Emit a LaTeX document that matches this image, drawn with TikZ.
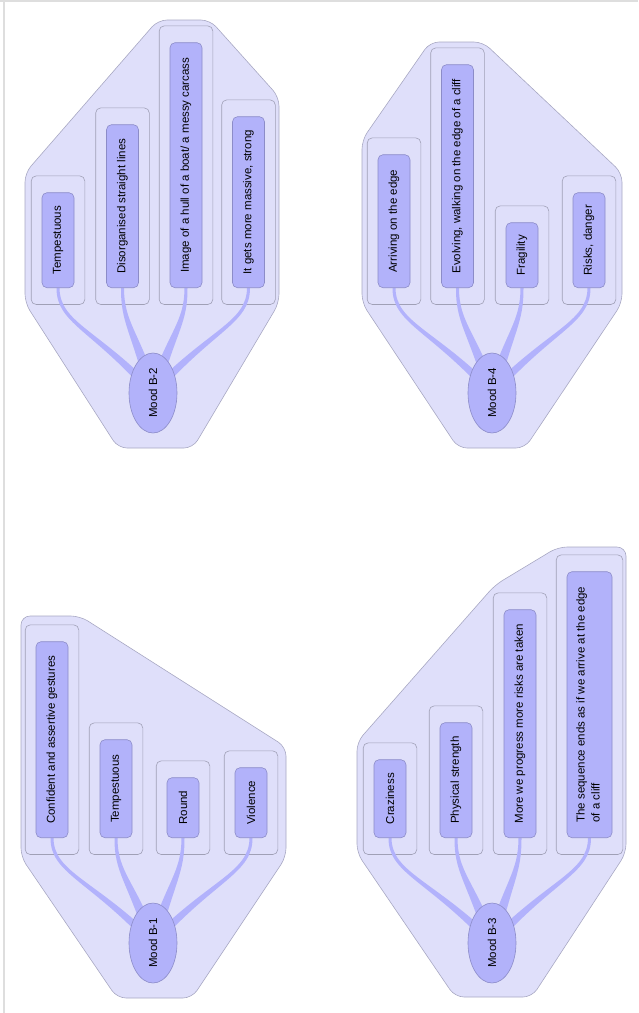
\documentclass[tikz,border=0pt]{standalone}
\usepackage{fontspec}
\setmainfont{Liberation Sans}
\usetikzlibrary{shapes.geometric,fit,calc,backgrounds}

\definecolor{hullfill}{RGB}{223,223,250}
\definecolor{hulldraw}{RGB}{168,168,195}
\definecolor{framedraw}{RGB}{160,160,182}
\definecolor{leaffill}{RGB}{178,178,250}
\definecolor{leafdraw}{RGB}{140,140,200}
\definecolor{branchfill}{RGB}{178,178,252}
\definecolor{pageedge}{RGB}{222,222,222}

\tikzset{
  hull/.style={fill=hullfill,draw=hulldraw,line width=0.6pt,rounded corners=9pt},
  frame/.style={draw=framedraw,line width=0.6pt,rounded corners=5pt,inner xsep=10.5pt,inner ysep=16.5pt},
  leaf/.style={fill=leaffill,draw=leafdraw,line width=0.6pt,rounded corners=5pt,minimum width=32pt,inner sep=0pt,anchor=south},
  mood/.style={ellipse,fill=leaffill,draw=leafdraw,line width=0.6pt,minimum width=48pt,minimum height=80pt,inner sep=0pt},
  branch/.style={fill=branchfill}
}

% tapered branch from a mood (#1) up to a leaf (#2)
\newcommand\branch[2]{%
  \fill[branch] ($(#2.south)+(-1.5,0)$) .. controls ($(#2.south)+(-1.7,-35)$) and ($(#1.center)!0.6!(#2.south)+(-4,0)$) .. ($(#1.center)+(-6,0)$)
    -- ($(#1.center)+(6,0)$) .. controls ($(#1.center)!0.6!(#2.south)+(4,0)$) and ($(#2.south)+(1.7,-35)$) .. ($(#2.south)+(1.5,0)$) -- cycle;}

\begin{document}
\begin{tikzpicture}[x=1pt,y=1pt,font=\fontsize{11.5}{13.5}\selectfont]
\useasboundingbox (0,0) rectangle (638,-1013);
\draw[pageedge,line width=2pt] (0,-0.8) -- (638,-0.8);
\draw[pageedge,line width=1.5pt] (4,0) -- (4,-1013);

% moods
\node[mood] (m1) at (153,-943) {\rotatebox{90}{Mood B-1}};
\node[mood] (m2) at (153,-393) {\rotatebox{90}{Mood B-2}};
\node[mood] (m3) at (492,-943) {\rotatebox{90}{Mood B-3}};
\node[mood] (m4) at (492,-393) {\rotatebox{90}{Mood B-4}};

% leaves
\foreach \n/\x/\y/\l/\t in {
  b1a/52/838/196/{Confident and assertive gestures},
  b1b/116/838/98/{Tempestuous},
  b1c/183/838/60/{Round},
  b1d/251/838/70/{Violence},
  b2a/58/288/95/{Tempestuous},
  b2b/122.5/288/163/{Disorganised straight lines},
  b2c/186/288/245/{Image of a hull of a boat/ a messy carcass},
  b2d/248.5/288/171/{It gets more massive, strong},
  b3a/390/838/78/{Craziness},
  b3b/456/838/115/{Physical strength},
  b3c/520/838/228/{More we progress more risks are taken},
  b4a/394/288/133/{Arriving on the edge},
  b4b/457.5/288/223/{Evolving, walking on the edge of a cliff},
  b4c/522/288/65/{Fragility},
  b4d/589/288/95/{Risks, danger}}
  \node[leaf,minimum height=\l] (\n) at (\x,-\y) {\rotatebox{90}{\t}};
\node[leaf,minimum width=45pt,minimum height=266] (b3d) at (589.5,-838)
  {\rotatebox{90}{\begin{tabular}{@{}l@{}}The sequence ends as if we arrive at the edge\\[1.5pt]of a cliff\end{tabular}}};

\begin{scope}[on background layer]
\draw[hull] (21,-616) -- (80,-616) -- (286,-747) -- (286,-857) -- (192,-998) -- (117,-998) -- (21,-857) -- cycle;
\draw[hull] (25,-173) -- (158,-20) -- (210,-20) -- (279,-97) -- (279,-303) -- (193,-448) -- (118,-448) -- (25,-303) -- cycle;
\draw[hull] (357,-742) -- (495,-585) -- (558,-547) -- (626,-547) -- (626,-853) -- (532,-997) -- (455,-997) -- (357,-853) -- cycle;
\draw[hull] (362,-140) -- (430,-42) -- (483,-42) -- (622,-173) -- (622,-303) -- (525,-448) -- (458,-448) -- (362,-303) -- cycle;
\foreach \n in {b1a,b1b,b1c,b1d,b2a,b2b,b2c,b2d,b3a,b3b,b3c,b3d,b4a,b4b,b4c,b4d}
  \node[frame,fit=(\n)] (f\n) {};
\foreach \m/\n in {m1/b1a,m1/b1b,m1/b1c,m1/b1d,m2/b2a,m2/b2b,m2/b2c,m2/b2d,
  m3/b3a,m3/b3b,m3/b3c,m3/b3d,m4/b4a,m4/b4b,m4/b4c,m4/b4d}
  \branch{\m}{\n};
\end{scope}
\end{tikzpicture}
\end{document}
